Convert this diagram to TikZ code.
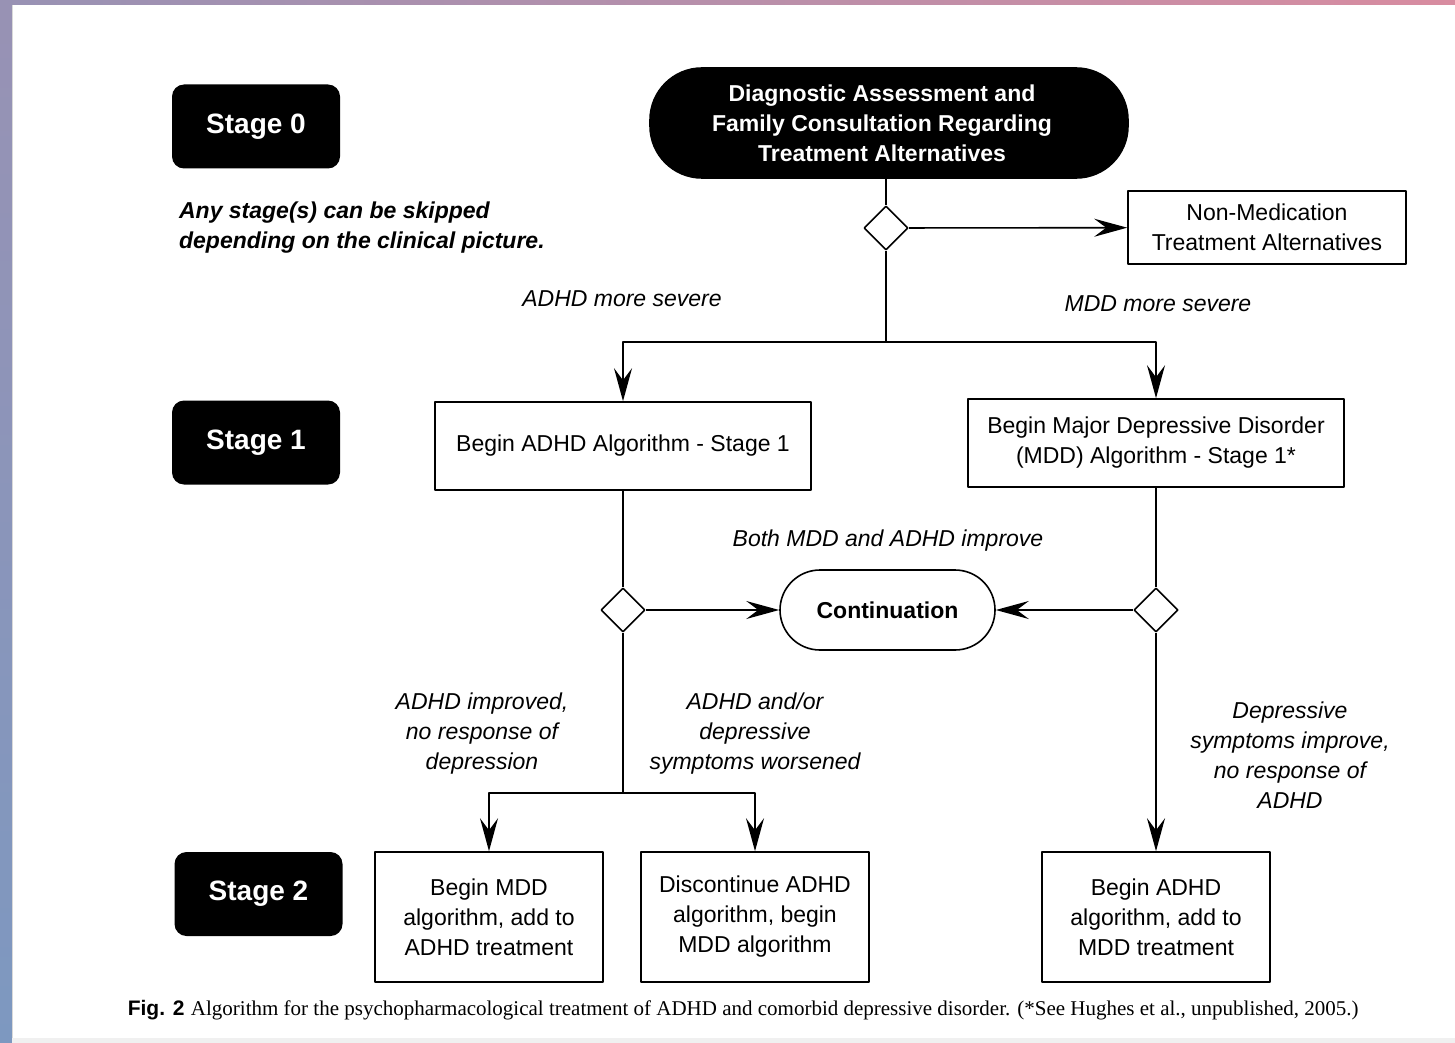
\documentclass[tikz,border=0pt]{standalone}
\usepackage{fontspec}
\setmainfont{Liberation Serif}
\setsansfont{Liberation Sans}
\usetikzlibrary{arrows.meta,shapes.geometric}
\definecolor{bandblue}{RGB}{125,152,192}
\definecolor{bandviolet}{RGB}{152,146,180}
\definecolor{bandpink}{RGB}{216,140,160}
\begin{document}
\begin{tikzpicture}[x=1pt,y=-1pt,line join=round,line width=1.6pt,
  font=\sffamily\fontsize{23}{30}\selectfont,
  >={Stealth[length=33pt,width=18pt,inset=12pt]},
  stagebox/.style={fill=black,rounded corners=12pt,minimum width=168pt,minimum height=84pt,
    text=white,font=\sffamily\bfseries\fontsize{28}{32}\selectfont},
  stepbox/.style={draw,align=center,inner sep=0pt},
  pill/.style={draw,rounded corners=40pt,align=center,inner sep=0pt,font=\sffamily\bfseries\fontsize{23}{30}\selectfont},
  decide/.style={diamond,draw,fill=white,minimum size=44pt,inner sep=0pt},
  lbl/.style={align=center,font=\sffamily\itshape\fontsize{23}{30}\selectfont}]
\useasboundingbox (0,0) rectangle (1455,1043);
% frame
\fill[left color=bandviolet,right color=bandpink] (0,0) rectangle (1455,5);
\fill[top color=bandviolet,bottom color=bandblue] (0,0) rectangle (12,1043);
\fill[black!6] (12,1038) rectangle (1455,1043);
\draw[black!15,line width=1pt] (12.5,5) -- (12.5,1038);
% stages
\foreach \n/\x/\y/\t in {s0/256/126.5/0,s1/256/442.5/1,s2/258.5/894/2}{
  \node[stagebox] (\n) at (\x,\y) {Stage \t};}
\node[anchor=west,align=left,font=\sffamily\bfseries\itshape\fontsize{23}{30}\selectfont] (note) at (175,228)
  {Any stage(s) can be skipped\\depending on the clinical picture.};
% nodes
\node[pill,fill=black,text=white,rounded corners=52pt,minimum width=478pt,minimum height=110pt] (diag) at (889,123)
  {\hspace*{-14pt}Diagnostic Assessment and\\\hspace*{-14pt}Family Consultation Regarding\\\hspace*{-14pt}Treatment Alternatives};
\node[decide] (d0) at (886,228) {};
\node[stepbox,minimum width=278pt,minimum height=73pt] (nonmed) at (1267,227.5)
  {Non-Medication\\Treatment Alternatives};
\node[stepbox,minimum width=376pt,minimum height=88pt] (adhd) at (623,446) {Begin ADHD Algorithm - Stage 1};
\node[stepbox,minimum width=376pt,minimum height=88pt] (mdd) at (1156,443)
  {Begin Major Depressive Disorder\\(MDD) Algorithm - Stage 1*};
\node[decide] (d1) at (623,610) {};
\node[decide] (d2) at (1156,610) {};
\node[pill,minimum width=215pt,minimum height=80pt] (cont) at (887.5,610) {Continuation};
\foreach \n/\x/\t in {b1/489/{Begin MDD\\algorithm, add to\\ADHD treatment},
    b2/755/{Discontinue ADHD\\algorithm, begin\\MDD algorithm},
    b3/1156/{Begin ADHD\\algorithm, add to\\MDD treatment}}{
  \node[stepbox,minimum width=228pt,minimum height=130pt] (\n) at (\x,917) {\t};}
\coordinate (j1) at (886,342);
\coordinate (j2) at (623,793);
% connectors
\draw (d0 |- diag.south) -- (d0);
\draw[->] (d0) -- (nonmed);
\draw (d0) -- (j1);
\draw[->] (j1) -| (adhd);
\draw[->] (j1) -| (mdd);
\draw (adhd) -- (d1);
\draw (mdd) -- (d2);
\draw[->] (d1) -- (cont);
\draw[->] (d2) -- (cont);
\draw (d1) -- (j2);
\draw[->] (j2) -| (b1);
\draw[->] (j2) -| (b2);
\draw[->] (d2) -- (b3);
% labels
\node[lbl] (l1) at (622,299) {ADHD more severe};
\node[lbl] (l2) at (1158,304) {MDD more severe};
\node[lbl] (l3) at (888,541) {Both MDD and ADHD improve};
\node[lbl] (l4) at (482,734) {ADHD improved,\\no response of\\depression};
\node[lbl] (l5) at (755,734) {ADHD and/or\\depressive\\symptoms worsened};
\node[lbl] (l6) at (1290,755) {Depressive\\symptoms improve,\\no response of\\ADHD};
% caption
\node[anchor=west,inner sep=0pt] (cap) at (127,1010)
  {{\sffamily\bfseries\fontsize{21}{24}\selectfont Fig. 2} {\rmfamily\fontsize{21}{24}\selectfont Algorithm for the psychopharmacological treatment of ADHD and comorbid depressive disorder. (*See Hughes et al., unpublished, 2005.)}};
\end{tikzpicture}
\end{document}
